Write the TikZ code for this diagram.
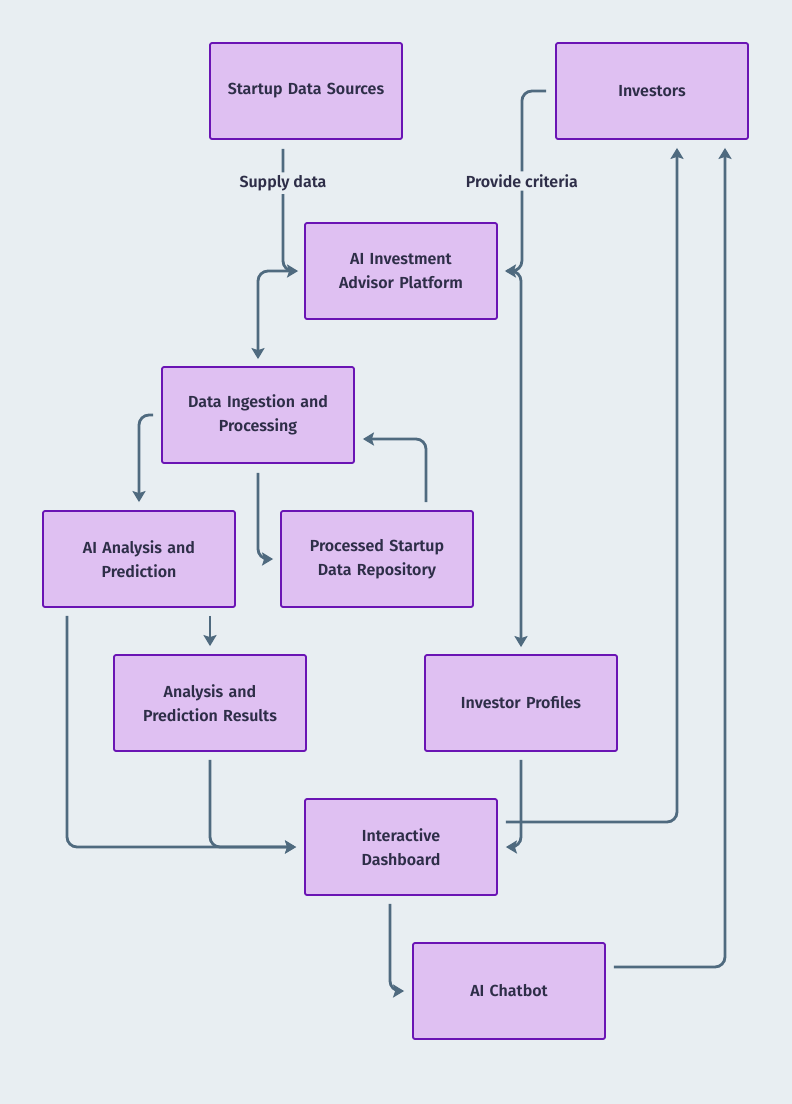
\documentclass[tikz,border=0pt]{standalone}
\usepackage{fontspec}
\setmainfont{Fira Sans}[UprightFont=* SemiBold, BoldFont=* Bold]
\definecolor{bgcol}{HTML}{E8EEF2}
\definecolor{boxfill}{HTML}{DFC0F2}
\definecolor{boxline}{HTML}{6A14B4}
\definecolor{linecol}{HTML}{4F6A7F}
\definecolor{textcol}{HTML}{2E2E48}
\usetikzlibrary{arrows.meta}
\begin{document}
\begin{tikzpicture}[x=1pt,y=-1pt]

% definitions
\tikzstyle{box} = [rectangle, rounded corners=2pt, minimum width=192pt, minimum height=96pt, text width=184pt, align=center, draw=boxline, line width=1.8pt, fill=boxfill, text=textcol, font=\fontsize{16}{24}\selectfont]
\tikzstyle{arrow} = [-{Stealth[length=11pt,width=13pt,inset=2pt]}, draw=linecol, line width=2.8pt, rounded corners=10pt]
\tikzstyle{lbl} = [fill=bgcol, text=textcol, inner sep=3pt, font=\fontsize{16}{18}\selectfont]

% background
\fill [bgcol] (0,0) rectangle (792,1104);
\useasboundingbox (0,0) rectangle (792,1104);

% the graph
\node (src) [box] at (306,91) {Startup Data Sources};
\node (inv) [box] at (652,91) {Investors};
\node (plat) [box] at (401,271) {AI Investment\\Advisor Platform};
\node (ing) [box] at (258,415) {Data Ingestion and\\Processing};
\node (ana) [box] at (139,559) {AI Analysis and\\Prediction};
\node (repo) [box] at (377,559) {Processed Startup\\Data Repository};
\node (res) [box] at (210,703) {Analysis and\\Prediction Results};
\node (prof) [box] at (521,703) {Investor Profiles};
\node (dash) [box] at (401,847) {Interactive\\Dashboard};
\node (bot) [box] at (509,991) {AI Chatbot};

\draw [arrow] ([xshift=-23pt,yshift=-9pt]src.south) |- node [lbl, pos=0.14] {Supply data} ([xshift=-6pt]plat.west);
\draw [arrow] ([xshift=-9pt]inv.west) -| node [lbl, pos=0.75] {Provide criteria} ([xshift=24pt]plat.east) -- ([xshift=7pt]plat.east);

\draw [arrow] ([xshift=-9pt]plat.west) -| ([yshift=7pt]ing.north);
\draw [arrow] ([xshift=9pt]plat.east) -| ([yshift=7pt]prof.north);

\draw [arrow] ([xshift=-8pt]ing.west) -| ([yshift=8pt]ana.north);
\draw [arrow] ([yshift=-9pt]ing.south) |- ([xshift=-7pt]repo.west);
\draw [arrow] ([xshift=49pt,yshift=8pt]repo.north) |- ([xshift=8pt,yshift=-24pt]ing.east);

\draw [arrow] ([xshift=71pt,yshift=-8pt]ana.south) -- ([yshift=8pt]res.north);
\draw [arrow] ([xshift=-72pt,yshift=-8pt]ana.south) |- ([xshift=-8pt]dash.west);
\draw [arrow] ([yshift=-8pt]res.south) |- ([xshift=-8pt]dash.west);
\draw [arrow] ([yshift=-8pt]prof.south) |- ([xshift=8pt]dash.east);

\draw [arrow] ([xshift=8pt,yshift=25pt]dash.east) -| ([xshift=25pt,yshift=-8pt]inv.south);
\draw [arrow] ([xshift=-11pt,yshift=-8pt]dash.south) |- ([xshift=-8pt]bot.west);
\draw [arrow] ([xshift=8pt,yshift=24pt]bot.east) -| ([xshift=73pt,yshift=-8pt]inv.south);

\end{tikzpicture}
\end{document}
